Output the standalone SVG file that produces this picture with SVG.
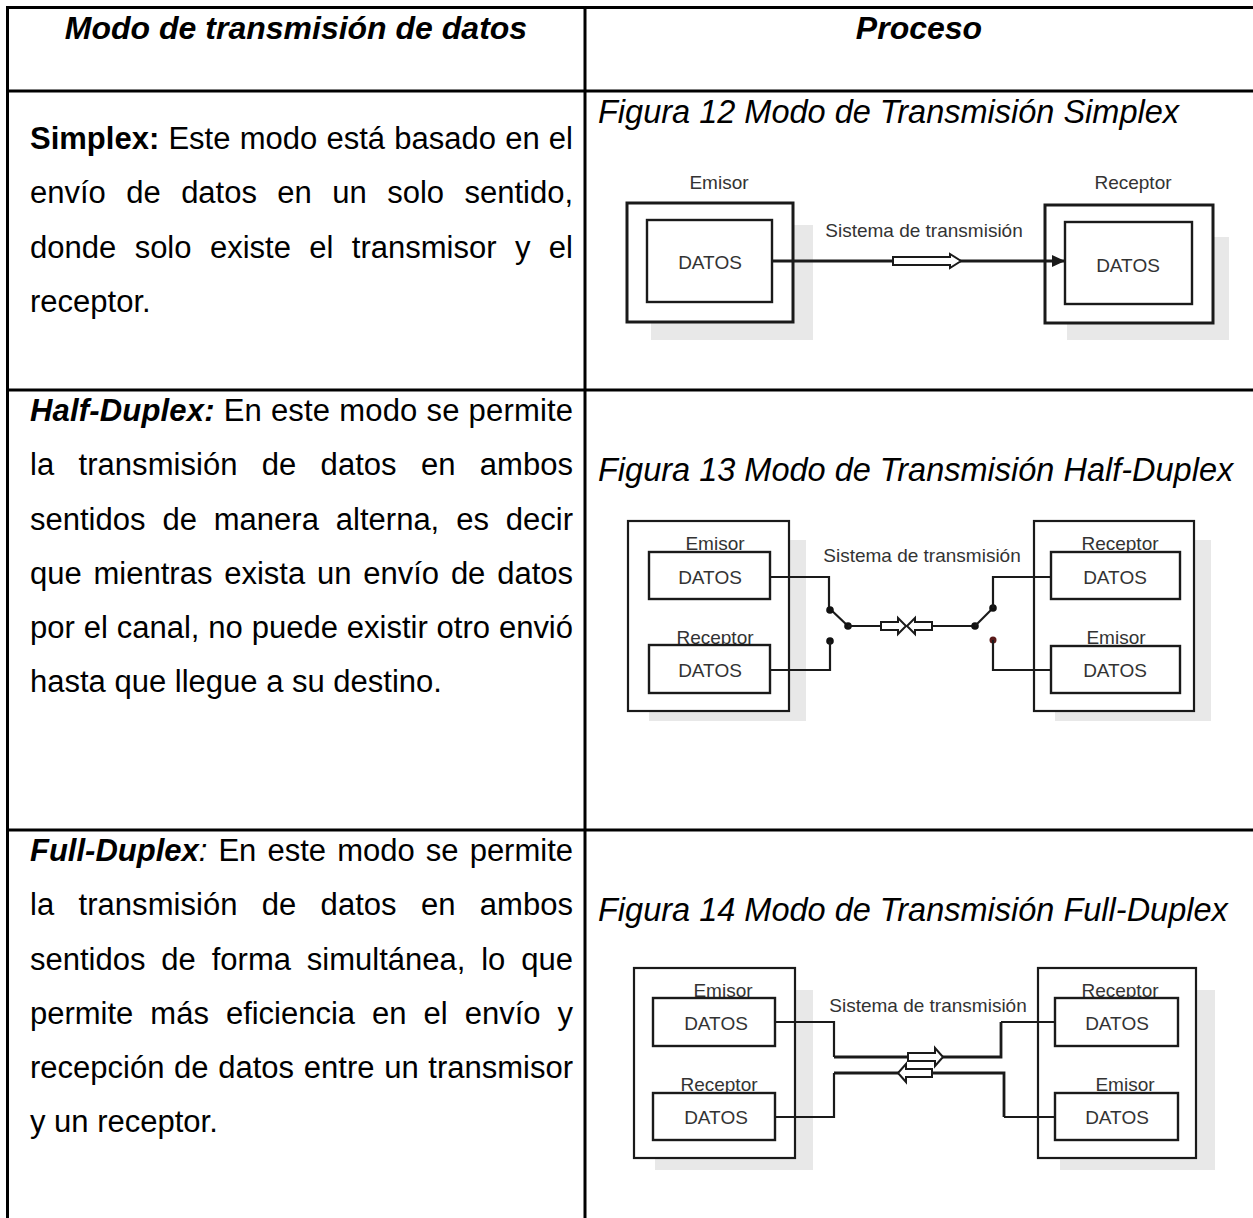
<svg xmlns="http://www.w3.org/2000/svg" width="1253" height="1218" viewBox="0 0 1253 1218">
<style>
  text { font-family: "Liberation Sans", Arial, sans-serif; }
  .b { font-size: 31px; fill: #000; }
  .hd { font-size: 32px; font-weight: bold; font-style: italic; fill: #000; }
  .cap { font-size: 32.5px; font-style: italic; fill: #000; }
  .bi { font-weight: bold; font-style: italic; }
  .bo { font-weight: bold; }
  .grid { stroke: #000; stroke-width: 3; fill: none; }
  .lbl { font-size: 19px; fill: #333; text-anchor: middle; }
  .shadow { fill: #e8e8e8; stroke: none; }
  .obox { fill: #fff; stroke: #1a1a1a; stroke-width: 2.2; }
  .obox3 { fill: #fff; stroke: #1a1a1a; stroke-width: 3; }
  .ibox { fill: #fff; stroke: #1a1a1a; stroke-width: 2.4; }
  .wire { fill: none; stroke: #1a1a1a; stroke-width: 2.2; }
  .wire3 { fill: none; stroke: #1a1a1a; stroke-width: 2.8; }
  .hollow { fill: #fff; stroke: #1a1a1a; stroke-width: 2; }
  .dot { fill: #111; }
</style>
<defs>
  <marker id="ah" markerUnits="userSpaceOnUse" markerWidth="14" markerHeight="14" refX="13" refY="7" orient="auto">
    <path d="M0,1 L13,7 L0,13 Z" fill="#1a1a1a"/>
  </marker>
</defs>
<rect width="1253" height="1218" fill="#fff"/>

<g id="table">
  <line class="grid" x1="6" y1="7.5" x2="1253" y2="7.5"/>
  <line class="grid" x1="7.5" y1="6" x2="7.5" y2="1218"/>
  <line class="grid" x1="585" y1="6" x2="585" y2="1218"/>
  <line class="grid" x1="6" y1="91" x2="1253" y2="91"/>
  <line class="grid" x1="6" y1="390" x2="1253" y2="390"/>
  <line class="grid" x1="6" y1="830" x2="1253" y2="830"/>
</g>

<g id="header">
  <text class="hd" x="296" y="39" text-anchor="middle">Modo de transmisión de datos</text>
  <text class="hd" x="919" y="39" text-anchor="middle">Proceso</text>
</g>

<g id="row-simplex-text">
  <text class="b" x="30" y="149" style="word-spacing:0.6px" textLength="543" lengthAdjust="spacing"><tspan class="bo">Simplex:</tspan> Este modo está basado en el</text>
  <text class="b" x="30" y="203" style="word-spacing:11.8px" textLength="543" lengthAdjust="spacing">envío de datos en un solo sentido,</text>
  <text class="b" x="30" y="258" style="word-spacing:9.8px" textLength="543" lengthAdjust="spacing">donde solo existe el transmisor y el</text>
  <text class="b" x="30" y="312">receptor.</text>
</g>

<g id="row-half-text">
  <text class="b" x="30" y="421" style="word-spacing:0.2px" textLength="543" lengthAdjust="spacing"><tspan class="bi">Half-Duplex:</tspan> En este modo se permite</text>
  <text class="b" x="30" y="475" style="word-spacing:15.6px" textLength="543" lengthAdjust="spacing">la transmisión de datos en ambos</text>
  <text class="b" x="30" y="530" style="word-spacing:8.3px" textLength="543" lengthAdjust="spacing">sentidos de manera alterna, es decir</text>
  <text class="b" x="30" y="584" style="word-spacing:3.2px" textLength="543" lengthAdjust="spacing">que mientras exista un envío de datos</text>
  <text class="b" x="30" y="638" style="word-spacing:0.3px" textLength="543" lengthAdjust="spacing">por el canal, no puede existir otro envió</text>
  <text class="b" x="30" y="692">hasta que llegue a su destino.</text>
</g>

<g id="row-full-text">
  <text class="b" x="30" y="861" style="word-spacing:2.5px" textLength="543" lengthAdjust="spacing"><tspan class="bi">Full-Duplex</tspan><tspan font-style="italic">:</tspan> En este modo se permite</text>
  <text class="b" x="30" y="915" style="word-spacing:15.6px" textLength="543" lengthAdjust="spacing">la transmisión de datos en ambos</text>
  <text class="b" x="30" y="970" style="word-spacing:7.3px" textLength="543" lengthAdjust="spacing">sentidos de forma simultánea, lo que</text>
  <text class="b" x="30" y="1024" style="word-spacing:8.4px" textLength="543" lengthAdjust="spacing">permite más eficiencia en el envío y</text>
  <text class="b" x="30" y="1078" style="word-spacing:1.1px" textLength="543" lengthAdjust="spacing">recepción de datos entre un transmisor</text>
  <text class="b" x="30" y="1132">y un receptor.</text>
</g>

<g id="captions">
  <text class="cap" x="598" y="123">Figura 12 Modo de Transmisión Simplex</text>
  <text class="cap" x="598" y="481">Figura 13 Modo de Transmisión Half-Duplex</text>
  <text class="cap" x="598" y="921">Figura 14 Modo de Transmisión Full-Duplex</text>
</g>

<!-- Figure 12: Simplex -->
<g id="fig12-emisor">
  <rect class="shadow" x="651" y="225" width="162" height="115"/>
  <rect class="obox3" x="627" y="203" width="166" height="119"/>
  <rect class="ibox" x="647" y="220" width="125" height="82"/>
  <text class="lbl" x="719" y="189">Emisor</text>
  <text class="lbl" x="710" y="269">DATOS</text>
</g>
<g id="fig12-receptor">
  <rect class="shadow" x="1067" y="237" width="162" height="103"/>
  <rect class="obox3" x="1045" y="205" width="168" height="118"/>
  <rect class="ibox" x="1065" y="222" width="127" height="82"/>
  <text class="lbl" x="1133" y="189">Receptor</text>
  <text class="lbl" x="1128" y="272">DATOS</text>
</g>

<!-- Figure 13: Half-Duplex -->
<g id="fig13-left">
  <rect class="shadow" x="649" y="540" width="157" height="181"/>
  <rect class="obox" x="628" y="521" width="161" height="190"/>
  <text class="lbl" x="715" y="550">Emisor</text>
  <rect class="ibox" x="649" y="552" width="121" height="47"/>
  <text class="lbl" x="710" y="584">DATOS</text>
  <text class="lbl" x="715" y="644">Receptor</text>
  <rect class="ibox" x="649" y="645" width="121" height="48"/>
  <text class="lbl" x="710" y="677">DATOS</text>
</g>
<g id="fig13-right">
  <rect class="shadow" x="1055" y="540" width="156" height="181"/>
  <rect class="obox" x="1034" y="521" width="160" height="190"/>
  <text class="lbl" x="1120" y="550">Receptor</text>
  <rect class="ibox" x="1051" y="552" width="129" height="47"/>
  <text class="lbl" x="1115" y="584">DATOS</text>
  <text class="lbl" x="1116" y="644">Emisor</text>
  <rect class="ibox" x="1051" y="646" width="129" height="47"/>
  <text class="lbl" x="1115" y="677">DATOS</text>
</g>

<!-- Figure 14: Full-Duplex -->
<g id="fig14-left">
  <rect class="shadow" x="655" y="990" width="158" height="180"/>
  <rect class="obox" x="634" y="968" width="161" height="190"/>
  <text class="lbl" x="723" y="997">Emisor</text>
  <rect class="ibox" x="653" y="998" width="122" height="48"/>
  <text class="lbl" x="716" y="1030">DATOS</text>
  <text class="lbl" x="719" y="1091">Receptor</text>
  <rect class="ibox" x="653" y="1093" width="122" height="47"/>
  <text class="lbl" x="716" y="1124">DATOS</text>
</g>
<g id="fig14-right">
  <rect class="shadow" x="1060" y="990" width="155" height="180"/>
  <rect class="obox" x="1038" y="968" width="158" height="190"/>
  <text class="lbl" x="1120" y="997">Receptor</text>
  <rect class="ibox" x="1055" y="998" width="123" height="48"/>
  <text class="lbl" x="1117" y="1030">DATOS</text>
  <text class="lbl" x="1125" y="1091">Emisor</text>
  <rect class="ibox" x="1055" y="1093" width="123" height="47"/>
  <text class="lbl" x="1117" y="1124">DATOS</text>
</g>

<g id="connectors">
  <!-- Fig 12 -->
  <line class="wire3" x1="772" y1="261" x2="1065" y2="261" marker-end="url(#ah)"/>
  <path class="hollow" d="M893,257 H950 V254 L961,261 L950,268 V265 H893 Z"/>
  <text class="lbl" x="924" y="237">Sistema de transmisión</text>

  <!-- Fig 13 -->
  <text class="lbl" x="922" y="562">Sistema de transmisión</text>
  <polyline class="wire" points="770,577 829,577 829,610"/>
  <line class="wire" x1="829" y1="608" x2="848" y2="626" stroke-width="3"/>
  <circle class="dot" cx="830" cy="610" r="3.8"/>
  <circle class="dot" cx="848" cy="626" r="3.8"/>
  <line class="wire" x1="848" y1="626" x2="881" y2="626"/>
  <path class="hollow" d="M881,622 H898 V618 L906,626 L898,634 V630 H881 Z"/>
  <path class="hollow" d="M932,622 H915 V618 L907,626 L915,634 V630 H932 Z"/>
  <line class="wire" x1="932" y1="626" x2="975" y2="626"/>
  <circle class="dot" cx="975" cy="626" r="3.8"/>
  <line class="wire" x1="975" y1="626" x2="993" y2="608" stroke-width="3"/>
  <circle class="dot" cx="993" cy="608" r="3.8"/>
  <polyline class="wire" points="993,608 993,577 1051,577"/>
  <circle class="dot" cx="830" cy="641" r="3.8"/>
  <polyline class="wire" points="830,641 830,670 770,670"/>
  <circle cx="993" cy="640" r="3.5" fill="#5a1a1a"/>
  <polyline class="wire" points="993,640 993,670 1051,670"/>

  <!-- Fig 14 -->
  <text class="lbl" x="928" y="1012">Sistema de transmisión</text>
  <polyline class="wire" points="775,1022 834,1022 834,1057"/>
  <polyline class="wire3" points="834,1057 1001,1057 1001,1022"/>
  <polyline class="wire" points="1001,1022 1055,1022"/>
  <path class="hollow" d="M908,1053 H935 V1048 L943,1057 L935,1066 V1061 H908 Z"/>
  <polyline class="wire" points="775,1117 834,1117 834,1073"/>
  <polyline class="wire3" points="834,1073 1004,1073 1004,1117"/>
  <polyline class="wire" points="1004,1117 1055,1117"/>
  <path class="hollow" d="M932,1069 H906 V1064 L898,1073 L906,1082 V1077 H932 Z"/>
</g>
</svg>
